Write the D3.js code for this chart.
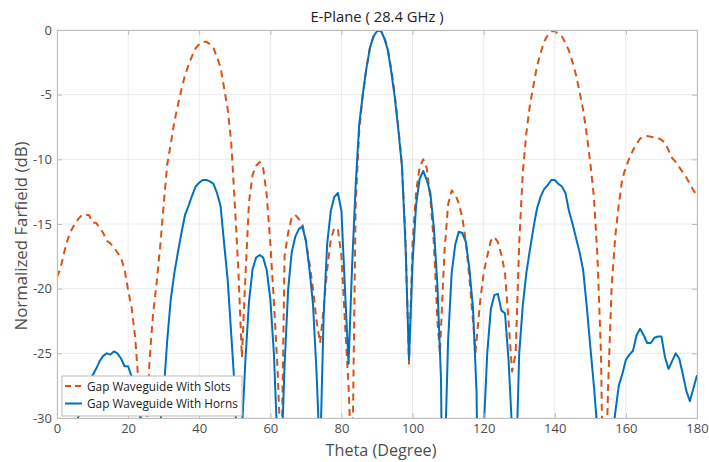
<!DOCTYPE html>
<html>
<head>
<meta charset="utf-8">
<script src="https://cdn.jsdelivr.net/npm/d3@7"></script>
<style>
  body { margin: 0; background: #fff; }
  text { font-family: "Open Sans", "Noto Sans", sans-serif; }
</style>
</head>
<body>
<div id="chart"></div>
<script>
// --- datos ---
const xTicks = [0, 20, 40, 60, 80, 100, 120, 140, 160, 180];
const yTicks = [0, -5, -10, -15, -20, -25, -30];

const slotsTheta = [0,1,2,3,4,5,6,7,8,9,10,11,12,13,14,15,16,17,18,19,20,21,22,23,24,24.5,25,26,27,28,29,30,
  31,32,33,34,35,36,37,38,39,40,41,42,43,44,45,46,47,48,49,50,51,52,53,54,55,56,57,58,59,60,61,62,62.7,63,64,65,66,67,68,69,70,
  71,72,73,74,75,76,77,78,79,80,81,82,83,84,85,86,87,88,89,90,91,92,93,94,95,96,97,98,99,100,101,102,103,104,105,106,107,107.7,108.5,109,110,
  111,112,113,114,115,116,117,117.7,118.5,119,120,121,122,123,124,125,126,127,128,129,130,131,132,133,134,135,136,137,138,139,140,
  141,142,143,144,145,146,147,148,149,150,151,152,153,153.8,154.5,155,156,157,158,159,160,161,162,163,164,165,166,167,168,169,170,
  171,172,173,174,175,176,177,178,179,180];
const slotsDb = [-19.1,-18.4,-17.2,-16.2,-15.5,-15.0,-14.6,-14.3,-14.3,-14.3,-14.9,-14.9,-15.3,-15.7,-16.3,-16.5,-16.8,-17.2,-17.6,-18.5,-20.1,-21.5,-23.8,-27.6,-34,-40,-33,-25.6,-22,-19.6,-16.8,-13.5,
  -10.4,-8.8,-7.1,-5.8,-4.6,-3.5,-2.7,-2.0,-1.4,-1.1,-0.9,-0.9,-1.1,-1.4,-2.1,-2.9,-4.5,-6.1,-8.7,-13.4,-18.5,-25.3,-19,-13.3,-11.2,-10.5,-10.2,-10.7,-12.8,-16.5,-21,-26,-31,-36,-17.5,-15.7,-14.5,-14.3,-14.6,-15.0,-16.3,
  -18,-20,-22.5,-24.2,-21.5,-18.5,-16.2,-15.3,-15.4,-17.5,-22.7,-27.5,-35,-13.5,-7.8,-5.0,-3.0,-1.4,-0.5,-0.1,0,-0.5,-1.4,-3.0,-5.0,-7.5,-10.3,-16,-25.8,-16.5,-12.5,-10.6,-10.0,-10.7,-13,-16.5,-22.5,-25,-20,-17,-13.5,
  -12.4,-12.7,-13.4,-14.5,-16.4,-19.2,-22.5,-24.9,-22.5,-21,-18.8,-17.5,-16.3,-16.0,-16.4,-17.4,-18.8,-22.5,-26.4,-25,-16.5,-11,-8,-5.8,-4.3,-2.8,-1.8,-0.9,-0.4,-0.1,-0.1,
  -0.3,-0.5,-1.0,-1.6,-2.5,-3.5,-4.8,-6.2,-8.1,-10.3,-12.9,-17.5,-25,-40,-33,-27.6,-19.8,-16,-13.5,-11.5,-10.6,-9.9,-9.3,-8.8,-8.4,-8.25,-8.2,-8.25,-8.3,-8.35,-8.5,
  -8.7,-9.3,-9.9,-10.2,-10.6,-11.0,-11.4,-11.9,-12.4,-12.8];

const hornsTheta = [0,3,5,6,7,8,9,10,11,12,13,14,15,16,17,18,19,20,21,22,23,24,25,26,27,28,29,30,
  31,32,33,34,35,36,37,38,39,40,41,42,43,44,45,46,47,48,49,50,51,51.5,52,53,54,55,56,57,58,59,60,61,62,62.5,63,64,65,66,67,68,69,70,
  71,72,73,73.8,74,75,76,77,78,79,80,81,82,83,84,85,86,87,88,89,90,91,92,93,94,95,96,97,98,99,100,101,102,103,104,105,106,107,108,108.5,109,110,
  111,112,113,114,115,116,117,118,118.5,119.5,120,121,122,123,124,125,126,127,128,128.5,129,130,131,132,133,134,135,136,137,138,139,140,
  141,142,143,144,145,146,147,148,149,150,151,152,153,154,155,156,157,158,159,160,161,162,163,164,165,166,167,168,169,170,
  171,172,173,174,175,176,177,178,179,180];
const hornsDb = [-40,-36,-31,-29.9,-29.5,-28.3,-27.3,-26.7,-26.2,-25.6,-25.2,-25.0,-25.1,-24.85,-25.0,-25.4,-26.0,-26.0,-26.8,-27.9,-29.2,-30.5,-33,-40,-38,-33,-30.5,-28,
  -24,-20.8,-18.8,-17.2,-15.7,-14.3,-13.6,-12.8,-12.1,-11.8,-11.6,-11.6,-11.7,-11.9,-12.6,-13.6,-16.5,-19.3,-23.5,-27.8,-35,-40,-31,-25.5,-21,-18.5,-17.6,-17.4,-17.6,-18.6,-20.8,-25,-32,-40,-34,-26,-20.1,-17.2,-16.0,-15.4,-15.2,-16.3,
  -18.5,-21.2,-26.5,-32,-33,-22,-16.5,-14.0,-12.9,-12.6,-14.0,-20.1,-25.8,-18.2,-12,-7.3,-5.0,-3.0,-1.4,-0.5,-0.1,0,-0.6,-1.5,-3.2,-5.2,-7.7,-10.5,-16.5,-25.5,-18,-13.5,-11.5,-10.9,-11.6,-12.6,-15.3,-19.8,-27,-40,-34,-24,
  -18.8,-16.6,-15.6,-15.7,-16.4,-18.5,-21.5,-28,-40,-34,-31,-25,-21.6,-20.5,-20.4,-21.7,-21.9,-25.5,-31,-40,-35,-25,-21.3,-18.8,-17,-15.3,-13.8,-12.9,-12.3,-12.0,-11.6,-11.6,
  -11.9,-12.1,-12.6,-14,-15,-16.1,-17.2,-18.6,-21.4,-24.5,-27.5,-31,-36,-40,-36,-32,-29.6,-27.5,-26.6,-25.5,-25.1,-24.8,-23.6,-23.1,-23.6,-24.2,-24.2,-23.8,-23.7,-23.7,
  -25.3,-26.2,-25.6,-25.0,-25.4,-26.6,-27.9,-28.7,-27.7,-26.7];

const series = [
  { name: "Gap Waveguide With Slots", theta: slotsTheta, db: slotsDb, color: "#D95319", dash: "7,5" },
  { name: "Gap Waveguide With Horns", theta: hornsTheta, db: hornsDb, color: "#0072BD", dash: null }
];

// --- layout ---
const width = 709, height = 462;
const margin = { top: 30, right: 12, bottom: 44, left: 57 };
const plotW = width - margin.left - margin.right;
const plotH = height - margin.top - margin.bottom;

const svg = d3.select("#chart").append("svg")
  .attr("width", width)
  .attr("height", height);

const x = d3.scaleLinear().domain([0, 180]).range([0, plotW]);
const y = d3.scaleLinear().domain([-30, 0]).range([plotH, 0]);

const g = svg.append("g").attr("transform", `translate(${margin.left},${margin.top})`);

svg.append("defs").append("clipPath").attr("id", "clip")
  .append("rect").attr("width", plotW).attr("height", plotH);

// rejilla
g.append("g").selectAll("line.gx").data(xTicks).join("line")
  .attr("x1", d => x(d)).attr("x2", d => x(d))
  .attr("y1", 0).attr("y2", plotH)
  .attr("stroke", "#ebebeb").attr("stroke-width", 1);
g.append("g").selectAll("line.gy").data(yTicks).join("line")
  .attr("x1", 0).attr("x2", plotW)
  .attr("y1", d => y(d)).attr("y2", d => y(d))
  .attr("stroke", "#ebebeb").attr("stroke-width", 1);

// curvas
const line = d3.line()
  .x(d => x(d[0]))
  .y(d => y(d[1]));

series.forEach(s => {
  const pts = s.theta.map((t, i) => [t, s.db[i]]);
  g.append("path")
    .datum(pts)
    .attr("clip-path", "url(#clip)")
    .attr("fill", "none")
    .attr("stroke", s.color)
    .attr("stroke-width", 2)
    .attr("stroke-dasharray", s.dash)
    .attr("stroke-linejoin", "round")
    .attr("d", line);
});

// ejes
const axisColor = "#bdbdbd";
const tickColor = "#4d4d4d";

const xAxis = g.append("g").attr("transform", `translate(0,${plotH})`)
  .call(d3.axisBottom(x).tickValues(xTicks).tickSize(-5).tickPadding(6));
const yAxis = g.append("g")
  .call(d3.axisLeft(y).tickValues(yTicks).tickSize(-5).tickPadding(5).tickFormat(d3.format("d")));
const xTop = g.append("g")
  .call(d3.axisTop(x).tickValues(xTicks).tickSize(-5).tickFormat(""));
const yRight = g.append("g").attr("transform", `translate(${plotW},0)`)
  .call(d3.axisRight(y).tickValues(yTicks).tickSize(-5).tickFormat(""));

[xAxis, yAxis, xTop, yRight].forEach(a => {
  a.select(".domain").attr("stroke", axisColor);
  a.selectAll(".tick line").attr("stroke", axisColor);
  a.selectAll(".tick text").attr("fill", tickColor).attr("font-size", 13)
    .style("font-family", "'Open Sans', 'Noto Sans', sans-serif");
});
yAxis.selectAll(".tick text").text(d => d === 0 ? "0" : "-" + Math.abs(d));

// títulos
svg.append("text")
  .attr("x", margin.left + plotW / 2).attr("y", 22)
  .attr("text-anchor", "middle").attr("font-size", 14.8).attr("fill", "#222")
  .text("E-Plane ( 28.4 GHz )");

svg.append("text")
  .attr("x", 381).attr("y", 456)
  .attr("text-anchor", "middle").attr("font-size", 16.2).attr("fill", tickColor)
  .text("Theta (Degree)");

svg.append("text")
  .attr("transform", `translate(27,236) rotate(-90)`)
  .attr("text-anchor", "middle").attr("font-size", 16.8).attr("fill", tickColor)
  .text("Normalized Farfield (dB)");

// leyenda
const legend = svg.append("g").attr("transform", "translate(62,376)");
legend.append("rect")
  .attr("width", 180).attr("height", 40)
  .attr("fill", "#fff").attr("stroke", "#bdbdbd");
series.forEach((s, i) => {
  const ly = 10 + i * 17.5;
  legend.append("line")
    .attr("x1", 3).attr("x2", 20).attr("y1", ly).attr("y2", ly)
    .attr("stroke", s.color).attr("stroke-width", 2)
    .attr("stroke-dasharray", s.dash ? "6,4" : null);
  legend.append("text")
    .attr("x", 25).attr("y", ly + 4.5)
    .attr("font-size", 11.8).attr("fill", "#222")
    .text(s.name);
});
</script>
</body>
</html>
